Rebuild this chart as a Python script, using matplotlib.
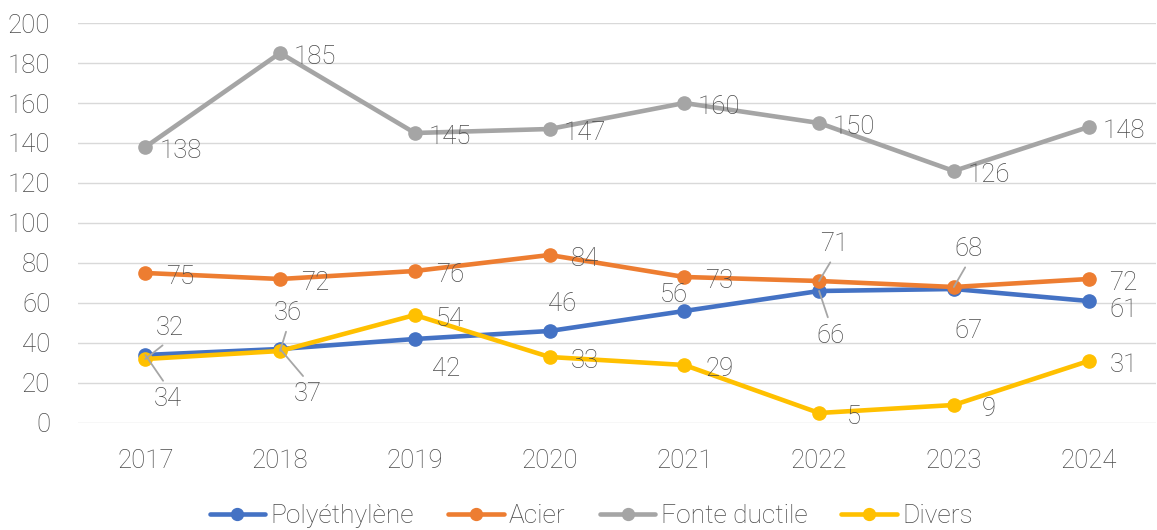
import matplotlib
matplotlib.use("Agg")
import matplotlib.pyplot as plt
from matplotlib import font_manager

annees = ["2017", "2018", "2019", "2020", "2021", "2022", "2023", "2024"]
polyethylene = [34, 37, 42, 46, 56, 66, 67, 61]
acier = [75, 72, 76, 84, 73, 71, 68, 72]
fonte_ductile = [138, 185, 145, 147, 160, 150, 126, 148]
divers = [32, 36, 54, 33, 29, 5, 9, 31]

series = [
    ("Polyéthylène", polyethylene, "#4472C4"),
    ("Acier", acier, "#ED7D31"),
    ("Fonte ductile", fonte_ductile, "#A5A5A5"),
    ("Divers", divers, "#FFC000"),
]

# label offsets in pixels (dx, dy up); default is to the right of the point
label_default = (35, -4)
label_moves = {
    ("Polyéthylène", 0): (22, -44),
    ("Polyéthylène", 1): (28, -45),
    ("Polyéthylène", 2): (31, -30),
    ("Polyéthylène", 3): (13, 27),
    ("Polyéthylène", 4): (-11, 16),
    ("Polyéthylène", 5): (11, -45),
    ("Polyéthylène", 6): (15, -42),
    ("Polyéthylène", 7): (35, -9),
    ("Acier", 5): (15, 37),
    ("Acier", 6): (15, 38),
    ("Divers", 0): (24, 31),
    ("Divers", 1): (8, 38),
}
leaders = {("Polyéthylène", 0), ("Polyéthylène", 1), ("Polyéthylène", 5),
           ("Acier", 5), ("Acier", 6), ("Divers", 0), ("Divers", 1)}

names = {f.name for f in font_manager.fontManager.ttflist}
fam = [f for f in ["Roboto", "Liberation Sans"] if f in names]
plt.rcParams["font.family"] = fam + ["DejaVu Sans"]
plt.rcParams["font.weight"] = "light"
txt = "#4A4A4A"
fs = 18.5

fig = plt.figure(figsize=(11.57, 5.30), dpi=100)
ax = fig.add_axes([0.0674, 0.2019, 0.9317, 0.7547])
x = list(range(len(annees)))

for name, vals, col in series:
    ax.plot(x, vals, color=col, lw=3.3, marker="o", ms=9.5, label=name,
            solid_capstyle="round", zorder=3)

for name, vals, col in series:
    for i, v in enumerate(vals):
        dx, dy = label_moves.get((name, i), label_default)
        kw = {}
        if (name, i) in leaders:
            kw["arrowprops"] = dict(arrowstyle="-", color="#A6A6A6", lw=1.3,
                                    shrinkA=3, shrinkB=0,
                                    relpos=(0.5, 1.0 if dy < 0 else 0.0))
        ax.annotate(str(v), (i, v), xytext=(dx, dy), textcoords="offset pixels",
                    ha="center", va="center", fontsize=fs, color=txt,
                    zorder=5, **kw)

ax.set_xlim(-0.5, 7.5)
ax.set_ylim(0, 200)
ax.set_yticks(range(0, 201, 20))
ax.set_xticks(x)
ax.set_xticklabels(annees)
ax.tick_params(axis="both", length=0, labelsize=fs, labelcolor=txt)
ax.tick_params(axis="y", pad=20)
ax.tick_params(axis="x", pad=19)
ax.grid(axis="y", color="#D9D9D9", lw=1.0, zorder=0)
ax.set_axisbelow(True)
for s in ax.spines.values():
    s.set_visible(False)

leg = fig.legend(loc="center", bbox_to_anchor=(0.511, 0.026), ncol=4, frameon=False,
                 fontsize=19, handlelength=2.1, handletextpad=0.2, columnspacing=1.3,
                 markerscale=0.9)
for t in leg.get_texts():
    t.set_color(txt)

fig.savefig("out.png", dpi=100)
